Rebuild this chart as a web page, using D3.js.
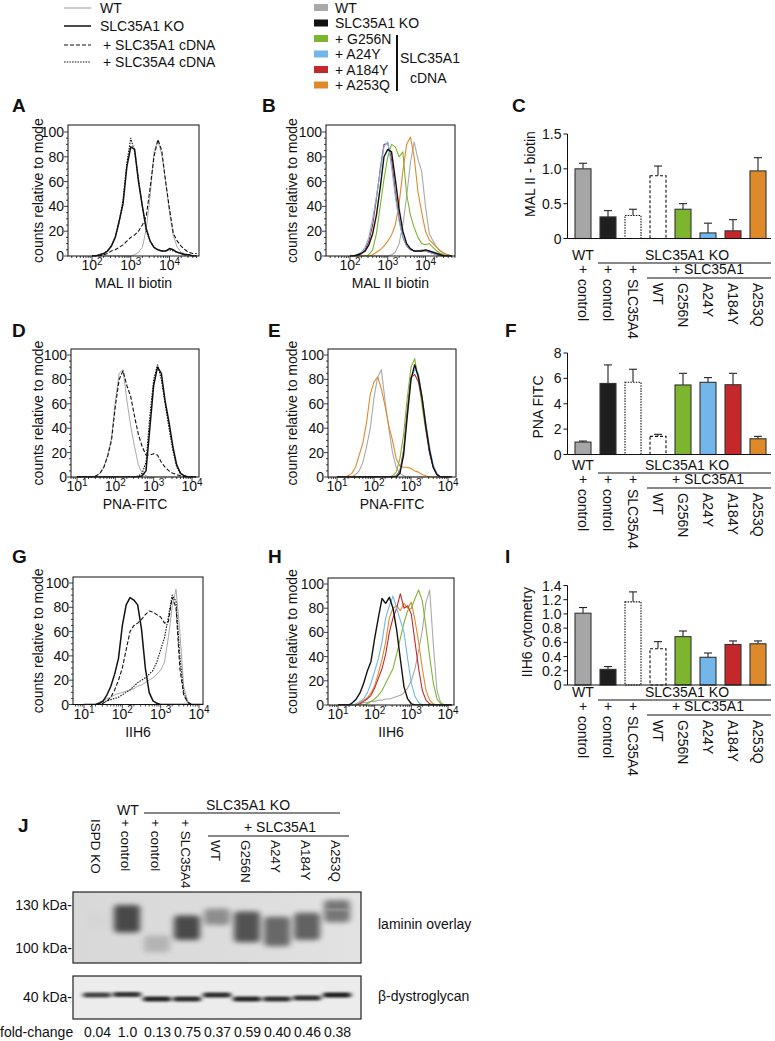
<!DOCTYPE html>
<html><head><meta charset="utf-8">
<script src="https://cdn.jsdelivr.net/npm/d3@7/dist/d3.min.js"></script>
<style>body{margin:0;background:#fff} text{font-family:"Liberation Sans",Arial,Helvetica,sans-serif;fill:#111}</style>
</head><body><svg id="c" width="775" height="1041"></svg>
<script>
// ---------------- DATA ----------------
// histogram grids (log10 of fluorescence)
const gridAB = [2.0,2.1,2.2,2.3,2.4,2.5,2.6,2.7,2.8,2.9,3.0,3.1,3.2,3.3,3.4,3.5,3.6,3.7,3.8,3.9,4.0,4.1,4.2,4.3,4.4,4.5,4.6,4.7];
const gridDEGH = [1.0,1.1,1.2,1.3,1.4,1.5,1.6,1.7,1.8,1.9,2.0,2.1,2.2,2.3,2.4,2.5,2.6,2.7,2.8,2.9,3.0,3.1,3.2,3.3,3.4,3.5,3.6,3.7,3.8,3.9,4.0,4.1];

const A_WT = [0,0,0,0,0,0,0,0,0,0, 0,1,3,7,22,48,84,93,82,60, 35,16,7,3,2,1,0,0];
const A_KO = [0,0,1,2,4,8,15,28,42,72, 88,86,60,40,22,12,7,5,4,4, 6,5,3,2,1,1,0,0];
const A_A1 = [0,0,0,1,2,4,5,7,9,12, 15,17,20,25,32,55,80,94,85,60, 38,18,12,8,5,3,2,2];
const A_A4 = [0,0,1,2,4,8,15,27,45,75, 95,84,62,40,20,12,7,5,4,4, 5,4,3,2,1,1,0,0];

const B_WT    = [0,0,0,0,0,0,0,0,0,0, 0,1,3,10,25,48,75,92,78,68, 40,18,12,7,4,2,1,0];
const B_KO    = [0,0,1,2,4,9,18,33,55,80, 86,84,62,38,20,10,6,4,4,4, 5,4,3,2,1,0,0,0];
const B_G256N = [0,0,0,0,0,1,5,18,40,62, 80,90,88,80,84,50,33,23,15,10, 9,10,7,4,2,1,0,0];
const B_A24Y  = [0,0,1,3,7,15,30,48,68,88, 92,72,48,28,15,8,5,4,4,5, 4,3,2,1,1,0,0,0];
const B_A184Y = [0,0,0,2,5,12,25,46,70,90, 91,78,52,30,15,8,5,4,4,4, 4,3,2,1,0,0,0,0];
const B_A253Q = [0,0,0,0,0,0,1,3,5,8, 12,17,25,42,68,90,96,80,52,35, 20,13,10,7,4,2,1,0];

const D_WT = [0,0,0,0,0, 1,3,8,18,32, 62,85,88,63,42, 25,10,3,1,0, 0,0,0,0,0, 0,0,0,0,0, 0,0];
const D_A1 = [0,0,0,0,0, 1,3,8,17,30, 58,80,87,75,66, 50,35,25,18,18, 19,18,12,8,5, 3,2,1,0,0, 0,0];
const D_KO = [0,0,0,0,0, 0,0,0,0,0, 0,0,0,0,0, 0,0,1,5,40, 75,90,85,62,45, 25,10,3,1,0, 0,0];
const D_A4 = [0,0,0,0,0, 0,0,0,0,0, 0,0,0,0,0, 0,1,3,12,50, 80,92,80,60,40, 22,8,3,1,0, 0,0];

const E_WT    = [0,0,0,0,0, 2,5,12,25,40, 65,82,88,62,40, 20,8,3,1,0, 0,0,0,0,0, 0,0,0,0,0, 0,0];
const E_KO    = [0,0,0,0,0, 0,0,0,0,0, 0,0,0,0,0, 0,0,3,18,50, 80,92,82,65,42, 22,8,2,0,0, 0,0];
const E_G256N = [0,0,0,0,0, 0,0,0,0,0, 0,0,0,0,0, 1,4,15,35,65, 90,97,80,58,38, 20,8,2,0,0, 0,0];
const E_A24Y  = [0,0,0,0,0, 0,0,0,0,0, 0,0,0,0,0, 0,1,4,20,52, 80,88,85,65,45, 25,10,3,0,0, 0,0];
const E_A184Y = [0,0,0,0,0, 0,0,0,0,0, 0,0,0,0,0, 0,1,5,22,55, 82,84,78,63,40, 20,8,2,0,0, 0,0];
const E_A253Q = [0,0,0,1,3, 8,18,28,45,68, 78,82,72,58,42, 30,15,9,8,8, 7,5,4,2,1, 0,0,0,0,0, 0,0];

const G_WT = [0,0,0,0,2, 3,5,6,8,9, 10,11,12,13,15, 16,18,20,22,25, 28,35,55,80,95, 60,15,3,0,0, 0,0];
const G_KO = [0,0,0,0,1, 3,8,15,25,38, 65,82,88,86,82, 62,30,10,3,1, 0,0,0,0,0, 0,0,0,0,0, 0,0];
const G_A1 = [0,0,0,0,0, 1,3,6,12,20, 30,45,60,65,67, 70,74,77,76,74, 72,67,68,88,80, 30,8,2,0,0, 0,0];
const G_A4 = [0,0,0,0,1, 2,3,4,5,6, 8,10,12,15,18, 20,22,25,28,35, 45,55,72,90,85, 40,10,2,0,0, 0,0];

const H_WT    = [0,0,0,0,0, 1,1,2,2,3, 3,4,4,5,5, 6,7,8,10,14, 20,30,45,62,85, 95,50,12,2,0, 0,0];
const H_KO    = [0,0,0,0,2, 5,10,18,28,36, 55,72,88,84,89, 80,62,38,15,5, 1,0,0,0,0, 0,0,0,0,0, 0,0];
const H_G256N = [0,0,0,0,0, 0,0,0,1,3, 5,8,12,18,24, 30,42,55,68,78, 80,88,95,86,64, 40,18,5,1,0, 0,0];
const H_A24Y  = [0,0,0,0,0, 1,3,5,10,18, 28,38,52,72,82, 90,80,70,60,38, 18,7,2,0,0, 0,0,0,0,0, 0,0];
const H_A184Y = [0,0,0,0,0, 0,1,3,5,8, 14,22,30,42,60, 72,80,92,80,82, 75,52,30,12,4, 1,0,0,0,0, 0,0];
const H_A253Q = [0,0,0,0,0, 0,2,4,6,10, 16,26,38,52,72, 80,82,78,84,80, 85,70,52,30,12, 4,1,0,0,0, 0,0];

// bar charts
const barCats = ["WT control","KO control","KO SLC35A4","KO WT","KO G256N","KO A24Y","KO A184Y","KO A253Q"];
const barRotLabels = ["control","control","SLC35A4","WT","G256N","A24Y","A184Y","A253Q"];
const C_mean = [1.00,0.31,0.33,0.90,0.42,0.08,0.11,0.97];
const C_err  = [1.08,0.40,0.42,1.04,0.50,0.22,0.27,1.16];
const F_mean = [0.98,5.60,5.69,1.43,5.48,5.69,5.50,1.24];
const F_err  = [1.06,7.06,6.72,1.59,6.40,6.06,6.40,1.43];
const I_mean = [1.01,0.22,1.17,0.51,0.68,0.39,0.57,0.58];
const I_err  = [1.09,0.26,1.31,0.61,0.76,0.45,0.62,0.62];
const C_ticks = [0,0.5,1.0,1.5];
const F_ticks = [0,2,4,6,8];
const I_ticks = [0,0.2,0.4,0.6,0.8,1.0,1.2,1.4];

// western blot
const laneLabels = ["ISPD KO","+ control","+ control","+ SLC35A4","WT","G256N","A24Y","A184Y","A253Q"];
const foldChange = ["0.04","1.0","0.13","0.75","0.37","0.59","0.40","0.46","0.38"];
const lamTopKDa  = [125,130,108,122,127,125,121,124,134];
const lamBotKDa  = [112,110,97.5,105,115,103.5,101,105,117];
const lamDark    = [0.01,0.85,0.22,0.85,0.45,0.8,0.68,0.72,0.6];
const dgKDa      = [40.4,40.5,39.6,39.6,40.4,39.6,39.6,39.8,40.4];
const dgDark     = [0.72,0.78,0.85,0.82,0.82,0.85,0.8,0.8,0.88];
const markerKDa  = [130,100];

// ---------------- COLORS ----------------
const col = {wt:"#a9a9a9", ko:"#111", g:"#7db52f", b:"#72b6ea", r:"#c4282b", o:"#df8a2a"};

const svg = d3.select("#c");
const defs = svg.append("defs");
const FONT = 14;

function T(x,y,s,opt={}){
  const t = svg.append("text").attr("x",x).attr("y",y).attr("font-size",opt.size||FONT).text(s);
  if(opt.anchor) t.attr("text-anchor",opt.anchor);
  if(opt.weight) t.attr("font-weight",opt.weight);
  if(opt.rot!==undefined) t.attr("transform",`rotate(${opt.rot},${x},${y})`);
  return t;
}

// ---------------- LEGENDS ----------------
const leg1 = [["WT",col.wt,null,1.2],["SLC35A1 KO","#111",null,1.5],["+ SLC35A1 cDNA","#111","4,2",1.2],["+ SLC35A4 cDNA","#111","1.5,1.2",1.2]];
leg1.forEach((d,i)=>{
  const y=[8,26,45,62][i];
  const l=svg.append("line").attr("x1",64).attr("x2",91).attr("y1",y).attr("y2",y).attr("stroke",d[1]).attr("stroke-width",d[3]);
  if(d[2]) l.attr("stroke-dasharray",d[2]);
  T(i<2?100:103,y+5,d[0]);
});
const leg2 = [["WT",col.wt],["SLC35A1 KO",col.ko],["+ G256N",col.g],["+ A24Y",col.b],["+ A184Y",col.r],["+ A253Q",col.o]];
leg2.forEach((d,i)=>{
  const y=7.5+i*15.5;
  svg.append("rect").attr("x",314).attr("y",y-3.5).attr("width",14).attr("height",7).attr("fill",d[1]);
  T(335,y+5,d[0]);
});
svg.append("rect").attr("x",396).attr("y",35).attr("width",2).attr("height",56).attr("fill","#111");
T(400,63,"SLC35A1"); T(410,83,"cDNA");

// ---------------- HISTOGRAMS ----------------
function hist(p){
  const x = d3.scaleLog().domain([p.d1,p.d2]).range([p.x1,p.x2]);
  const y = d3.scaleLinear().domain([0,100]).range([p.y0,p.y100]);
  const id="clip"+p.letter;
  defs.append("clipPath").attr("id",id).append("rect").attr("x",p.left).attr("y",p.top).attr("width",p.right-p.left).attr("height",p.y0-p.top+0.5);
  const g = svg.append("g").attr("clip-path",`url(#${id})`);
  const line = d3.line().x(d=>x(Math.pow(10,d[0]))).y(d=>y(d[1]));
  p.series.forEach(s=>{
    const path=g.append("path").datum(p.grid.map((v,i)=>[v,s.v[i]])).attr("d",line)
      .attr("fill","none").attr("stroke",s.c).attr("stroke-width",s.w||1.1).attr("stroke-linejoin","round");
    if(s.dash) path.attr("stroke-dasharray",s.dash);
  });
  svg.append("rect").attr("x",p.left).attr("y",p.top).attr("width",p.right-p.left).attr("height",p.y0-p.top)
    .attr("fill","none").attr("stroke","#111").attr("stroke-width",1);
  for(let v=0; v<=100; v+=5){
    const major = v%20===0;
    svg.append("line").attr("x1",p.left).attr("x2",p.left-(major?4:2)).attr("y1",y(v)).attr("y2",y(v)).attr("stroke","#111").attr("stroke-width",0.8);
    if(major) T(p.left-4,y(v)+5,String(v),{anchor:"end"});
  }
  const lo=Math.floor(Math.log10(x.invert(p.left))), hi=Math.ceil(Math.log10(x.invert(p.right)));
  for(let k=lo;k<=hi;k++){
    for(let m=1;m<=9;m++){
      const v=m*Math.pow(10,k), px=x(v);
      if(px<p.left-0.1||px>p.right+0.1) continue;
      svg.append("line").attr("x1",px).attr("x2",px).attr("y1",p.y0).attr("y2",p.y0+(m===1?4:2)).attr("stroke","#111").attr("stroke-width",0.8);
    }
  }
  p.decades.forEach(k=>{
    const px=x(Math.pow(10,k));
    const t=svg.append("text").attr("x",px).attr("y",p.y0+14).attr("text-anchor","middle").attr("font-size",FONT);
    t.append("tspan").text("10");
    t.append("tspan").attr("dy",-5.5).attr("font-size",10).text(String(k));
  });
  T((p.left+p.right)/2,p.y0+32,p.xlabel,{anchor:"middle"});
  T(p.ylx,(p.top+p.y0)/2,"counts relative to mode",{anchor:"middle",rot:-90});
  T(p.lx,p.ly,p.letter,{weight:"bold",size:19});
}

hist({letter:"A",lx:12,ly:112,left:68,right:199,top:125,y100:132,y0:256,d1:1e2,d2:1e4,x1:92,x2:169.5,decades:[2,3,4],
  grid:gridAB,xlabel:"MAL II biotin",ylx:42.5,
  series:[{v:A_WT,c:col.wt,w:1},{v:A_A1,c:"#111",dash:"4,2",w:1.1},{v:A_A4,c:"#111",dash:"1.5,1.2",w:1.1},{v:A_KO,c:"#111",w:1.5}]});
hist({letter:"B",lx:262,ly:112,left:326,right:455,top:125,y100:132,y0:256,d1:1e2,d2:1e4,x1:350,x2:425.5,decades:[2,3,4],
  grid:gridAB,xlabel:"MAL II biotin",ylx:297,
  series:[{v:B_WT,c:col.wt},{v:B_A253Q,c:col.o},{v:B_G256N,c:col.g},{v:B_A184Y,c:col.r},{v:B_A24Y,c:col.b},{v:B_KO,c:"#111",w:1.4}]});
hist({letter:"D",lx:12,ly:337,left:71,right:199,top:349,y100:355,y0:477,d1:1e1,d2:1e4,x1:77,x2:192,decades:[1,2,3,4],
  grid:gridDEGH,xlabel:"PNA-FITC",ylx:42.5,
  series:[{v:D_WT,c:col.wt,w:1},{v:D_A1,c:"#111",dash:"4,2",w:1.1},{v:D_A4,c:"#111",dash:"1.5,1.2",w:1.1},{v:D_KO,c:"#111",w:1.5}]});
hist({letter:"E",lx:268,ly:337,left:328,right:456,top:349,y100:355,y0:477,d1:1e1,d2:1e4,x1:337,x2:448,decades:[1,2,3,4],
  grid:gridDEGH,xlabel:"PNA-FITC",ylx:297,
  series:[{v:E_WT,c:col.wt},{v:E_A253Q,c:col.o},{v:E_G256N,c:col.g},{v:E_A184Y,c:col.r},{v:E_A24Y,c:col.b},{v:E_KO,c:"#111",w:1.4}]});
hist({letter:"G",lx:12,ly:563,left:73,right:203,top:577,y100:583,y0:704.5,d1:1e1,d2:1e4,x1:84,x2:199,decades:[1,2,3,4],
  grid:gridDEGH,xlabel:"IIH6",ylx:42.5,
  series:[{v:G_WT,c:col.wt,w:1},{v:G_A1,c:"#111",dash:"4,2",w:1.1},{v:G_A4,c:"#111",dash:"1.5,1.2",w:1.1},{v:G_KO,c:"#111",w:1.5}]});
hist({letter:"H",lx:268,ly:563,left:328,right:454,top:578,y100:584,y0:705,d1:1e1,d2:1e4,x1:338,x2:448,decades:[1,2,3,4],
  grid:gridDEGH,xlabel:"IIH6",ylx:297,
  series:[{v:H_WT,c:col.wt},{v:H_A253Q,c:col.o},{v:H_G256N,c:col.g},{v:H_A184Y,c:col.r},{v:H_A24Y,c:col.b},{v:H_KO,c:"#111",w:1.4}]});

// ---------------- BAR CHARTS ----------------
const barStyle = [
  {fill:"#a6a6a6"},{fill:"#1f1f1f"},{fill:"#fff",dash:"1.5,1.2"},{fill:"#fff",dash:"3,2"},
  {fill:col.g},{fill:col.b},{fill:col.r},{fill:col.o}];
function bars(p){
  const x = d3.scaleBand().domain(barCats).range([570.5,770.5]).paddingInner(0.36).paddingOuter(0.18);
  const y = d3.scaleLinear().domain([0,p.max]).range([p.y0,p.yTop]);
  const ax=567.5;
  barCats.forEach((c,i)=>{
    const cx=x(c)+x.bandwidth()/2;
    svg.append("line").attr("x1",cx).attr("x2",cx).attr("y1",y(p.mean[i])).attr("y2",y(p.err[i])).attr("stroke","#222").attr("stroke-width",1.1);
    svg.append("line").attr("x1",cx-4).attr("x2",cx+4).attr("y1",y(p.err[i])).attr("y2",y(p.err[i])).attr("stroke","#222").attr("stroke-width",1.1);
  });
  barCats.forEach((c,i)=>{
    const r=svg.append("rect").attr("x",x(c)).attr("y",y(p.mean[i])).attr("width",x.bandwidth()).attr("height",y(0)-y(p.mean[i]))
      .attr("fill",barStyle[i].fill).attr("stroke","#333").attr("stroke-width",1.1);
    if(barStyle[i].dash) r.attr("stroke","#111").attr("stroke-dasharray",barStyle[i].dash);
  });
  svg.append("line").attr("x1",ax).attr("x2",ax).attr("y1",p.y0).attr("y2",y(p.max)).attr("stroke","#111").attr("stroke-width",1);
  svg.append("line").attr("x1",ax).attr("x2",771).attr("y1",p.y0).attr("y2",p.y0).attr("stroke","#111").attr("stroke-width",1);
  p.ticks.forEach(v=>{
    svg.append("line").attr("x1",ax).attr("x2",ax-4).attr("y1",y(v)).attr("y2",y(v)).attr("stroke","#111").attr("stroke-width",1);
    T(ax-6,y(v)+5,p.fmt(v),{anchor:"end"});
  });
  T(p.tx,p.ty,p.title,{anchor:"middle",rot:-90});
  T(p.lx,p.ly,p.letter,{weight:"bold",size:19});
  const cx=i=>x(barCats[i])+x.bandwidth()/2;
  const b=p.lab;
  T(cx(0),b,"WT",{anchor:"middle"});
  T(687,b,"SLC35A1 KO",{anchor:"middle"});
  svg.append("line").attr("x1",598).attr("x2",771).attr("y1",b+3).attr("y2",b+3).attr("stroke","#111").attr("stroke-width",1);
  [0,1,2].forEach(i=>T(cx(i),b+14,"+",{anchor:"middle"}));
  T((cx(3)+cx(7))/2,b+14,"+ SLC35A1",{anchor:"middle"});
  svg.append("line").attr("x1",647).attr("x2",771).attr("y1",b+18).attr("y2",b+18).attr("stroke","#111").attr("stroke-width",1);
  barRotLabels.forEach((s,i)=>{
    svg.append("text").attr("transform",`translate(${cx(i)},${b+(i<3?19:23)}) rotate(90)`).attr("dy","0.35em").attr("font-size",FONT).text(s);
  });
}
bars({letter:"C",lx:512,ly:112,y0:238.5,yTop:134,max:1.5,mean:C_mean,err:C_err,ticks:C_ticks,fmt:v=>v===0?"0":v.toFixed(1),title:"MAL II - biotin",tx:535,ty:174,lab:260});
bars({letter:"F",lx:505,ly:337,y0:454.5,yTop:353,max:8,mean:F_mean,err:F_err,ticks:F_ticks,fmt:v=>String(v),title:"PNA  FITC",tx:543,ty:407,lab:470});
bars({letter:"I",lx:505,ly:563,y0:685,yTop:585.5,max:1.4,mean:I_mean,err:I_err,ticks:I_ticks,fmt:v=>v===0?"0":v.toFixed(1),title:"IIH6 cytometry",tx:532,ty:632,lab:697});

// ---------------- WESTERN BLOT ----------------
T(18,832,"J",{weight:"bold",size:19});
const laneX = d3.scalePoint().domain(d3.range(9)).range([97,337]);
const labX = d3.scalePoint().domain(d3.range(9)).range([96,336]);
T(128,815,"WT",{anchor:"middle"});
T(248,810,"SLC35A1 KO",{anchor:"middle"});
svg.append("line").attr("x1",144).attr("x2",340).attr("y1",813).attr("y2",813).attr("stroke","#111").attr("stroke-width",1);
T(280,832,"+ SLC35A1",{anchor:"middle"});
svg.append("line").attr("x1",208).attr("x2",349).attr("y1",836).attr("y2",836).attr("stroke","#111").attr("stroke-width",1);
laneLabels.forEach((s,i)=>{
  svg.append("text").attr("transform",`translate(${labX(i)},${i<4?819:840}) rotate(90)`).attr("dy","0.35em").attr("font-size",13.5).text(s);
});

const blur = defs.append("filter").attr("id","blur").attr("x","-50%").attr("y","-100%").attr("width","200%").attr("height","300%");
blur.append("feGaussianBlur").attr("stdDeviation","3.2 2.8");
const blur2 = defs.append("filter").attr("id","blur2").attr("x","-50%").attr("y","-100%").attr("width","200%").attr("height","300%");
blur2.append("feGaussianBlur").attr("stdDeviation","2.6 1.2");
const grad = defs.append("linearGradient").attr("id","bg1").attr("x1","0").attr("x2","1");
grad.append("stop").attr("offset","0").attr("stop-color","#d8d8d8");
grad.append("stop").attr("offset","0.5").attr("stop-color","#dcdcdc");
grad.append("stop").attr("offset","1").attr("stop-color","#e2e2e2");
defs.append("clipPath").attr("id","cb1").append("rect").attr("x",73).attr("y",892).attr("width",288).attr("height",71);
defs.append("clipPath").attr("id","cb2").append("rect").attr("x",73).attr("y",976).attr("width",288).attr("height",43);

const kda = d3.scaleLog().domain([130,100]).range([905,948]);
svg.append("rect").attr("x",73).attr("y",892).attr("width",288).attr("height",71).attr("fill","url(#bg1)");
const gb1 = svg.append("g").attr("clip-path","url(#cb1)");
laneLabels.forEach((s,i)=>{
  const cx=laneX(i);
  gb1.append("rect").attr("x",cx-13).attr("y",kda(lamTopKDa[i])).attr("width",26).attr("height",kda(lamBotKDa[i])-kda(lamTopKDa[i]))
    .attr("rx",4).attr("fill","#000").attr("opacity",lamDark[i]*0.78).attr("filter","url(#blur)");
});
gb1.append("rect").attr("x",laneX(8)-11).attr("y",kda(127)).attr("width",22).attr("height",2).attr("fill","#fff").attr("opacity",0.25).attr("filter","url(#blur2)");
svg.append("rect").attr("x",73).attr("y",892).attr("width",288).attr("height",71).attr("fill","none").attr("stroke","#222").attr("stroke-width",1.2);

const kda2 = d3.scaleLinear().domain([39,41]).range([1002,992]);
svg.append("rect").attr("x",73).attr("y",976).attr("width",288).attr("height",43).attr("fill","#ececec");
const gb2 = svg.append("g").attr("clip-path","url(#cb2)");
laneLabels.forEach((s,i)=>{
  const cx=laneX(i);
  gb2.append("rect").attr("x",cx-14).attr("y",kda2(dgKDa[i])-2.5).attr("width",28).attr("height",5)
    .attr("rx",2).attr("fill","#000").attr("opacity",dgDark[i]).attr("filter","url(#blur2)");
});
svg.append("rect").attr("x",73).attr("y",976).attr("width",288).attr("height",43).attr("fill","none").attr("stroke","#222").attr("stroke-width",1.2);

markerKDa.forEach(k=>T(72,kda(k)+4.5,k+" kDa-",{anchor:"end"}));
T(72,1001.5,"40 kDa-",{anchor:"end"});
T(378,929,"laminin overlay");
T(378,1001,"β-dystroglycan");
T(0,1037,"fold-change");
foldChange.forEach((s,i)=>T(laneX(i)+0.5,1037,s,{anchor:"middle"}));
</script></body></html>
